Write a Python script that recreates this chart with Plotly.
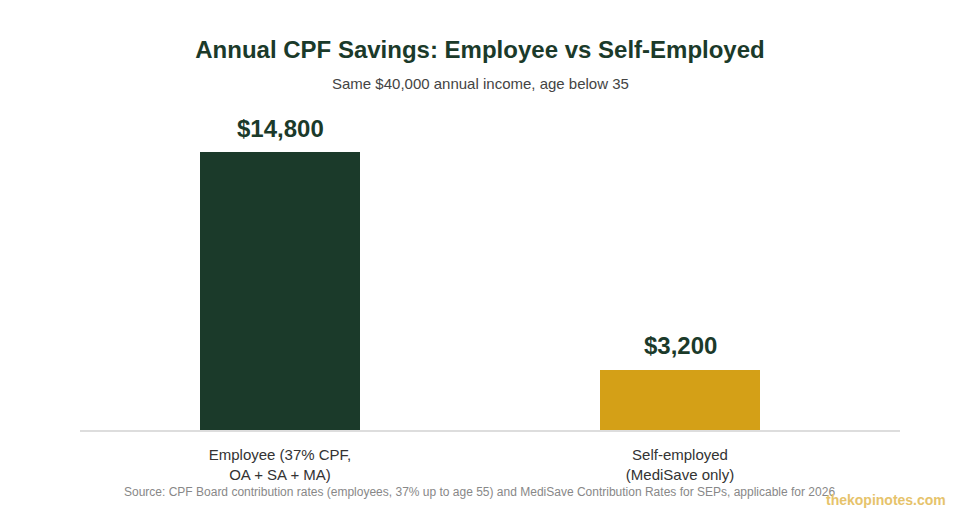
import plotly.graph_objects as go

# data
categories = ["Employee (37% CPF,<br>OA + SA + MA)", "Self-employed<br>(MediSave only)"]
savings = [14800, 3200]
bar_colors = ["#1b3a2a", "#d4a017"]
value_labels = ["$14,800", "$3,200"]

# page body adds an 8px offset, so the figure is sized 952x512
fig = go.Figure(
    go.Bar(
        x=categories,
        y=savings,
        width=0.4,
        marker=dict(color=bar_colors, line=dict(width=0)),
        hoverinfo="skip",
    )
)

# value labels above the bars
label_notes = [
    dict(x=c, y=v, text="<b>" + t + "</b>", xref="x", yref="y",
         yanchor="middle", yshift=24, showarrow=False,
         font=dict(family="Liberation Sans, Arial", size=24, color="#1b3a2a"))
    for c, v, t in zip(categories, savings, value_labels)
]

fig.update_layout(
    width=952,
    height=512,
    paper_bgcolor="white",
    plot_bgcolor="white",
    margin=dict(l=72, r=60, t=92, b=90),
    font=dict(family="Liberation Sans, Arial", color="#333"),
    showlegend=False,
    title=dict(
        text="<b>Annual CPF Savings: Employee vs Self-Employed</b>",
        x=472 / 952, xanchor="center", y=1 - 42 / 512, yanchor="middle",
        font=dict(size=24, color="#1b3a2a"),
    ),
    xaxis=dict(
        range=[-0.5, 1.55],
        showline=True, linecolor="#dddddd", linewidth=2,
        showgrid=False, zeroline=False, ticks="",
        ticklabelstandoff=10,
        tickfont=dict(size=15, color="#333"),
    ),
    yaxis=dict(
        range=[0, 17570],
        visible=False, showgrid=False, zeroline=False,
    ),
    annotations=label_notes + [
        dict(text="Same $40,000 annual income, age below 35",
             xref="paper", yref="paper", x=0.5, y=1.0, xshift=-10, yshift=17,
             xanchor="center", yanchor="middle", showarrow=False,
             font=dict(size=15, color="#444")),
        dict(text="Source: CPF Board contribution rates (employees, 37% up to age 55) and MediSave Contribution Rates for SEPs, applicable for 2026",
             xref="paper", yref="paper", x=0.5, y=0, xshift=-11, yshift=-62,
             xanchor="center", yanchor="middle", showarrow=False,
             font=dict(size=12, color="#888")),
        dict(text="<b>thekopinotes.com</b>",
             xref="paper", yref="paper", x=1.0, y=0, xshift=48, yshift=-70,
             xanchor="right", yanchor="middle", showarrow=False,
             font=dict(size=14, color="#e6c36b")),
    ],
)

fig.write_html("out.html")
